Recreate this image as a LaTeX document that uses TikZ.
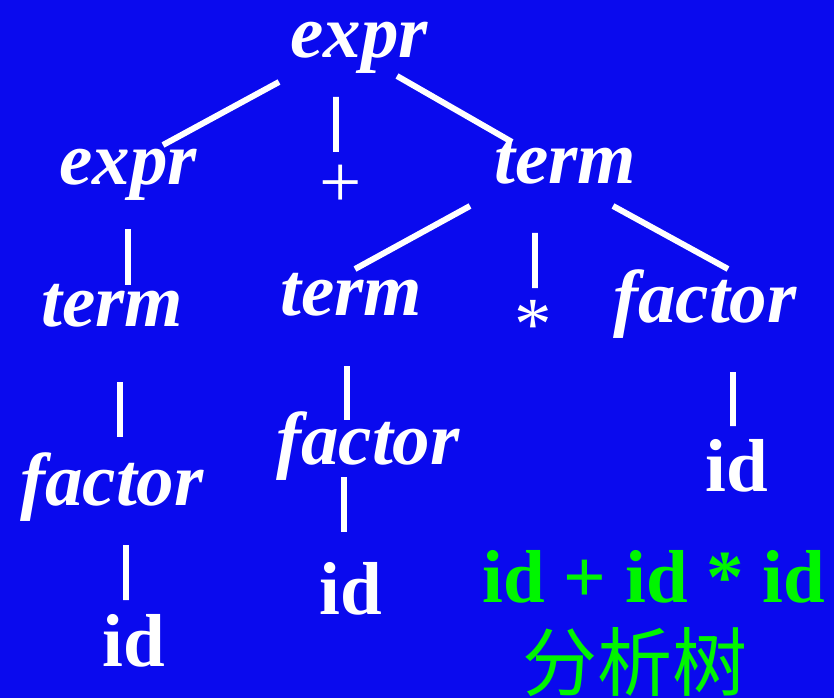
\documentclass[tikz,border=0pt]{standalone}
\usepackage{fontspec}
\setmainfont{Liberation Serif}
\newfontfamily\cjk{Noto Sans CJK SC}
\definecolor{slideblue}{RGB}{10,10,238}
\definecolor{slidegreen}{RGB}{0,245,0}

\begin{document}
\begin{tikzpicture}[very thick]
\tikzset{
  sym/.style={text=white, inner sep=0pt, anchor=base, font=\fontsize{42.7}{50}\selectfont\bfseries\itshape},
  tok/.style={sym, font=\fontsize{42.7}{50}\selectfont\bfseries},
  op/.style={sym, font=\fontsize{42.7}{50}\selectfont},
  edge/.style={white, line width=3.4pt}
}
\useasboundingbox (0,0) rectangle (16.68,13.96);
\fill[slideblue] (0,0) rectangle (16.68,13.96);

\node[sym] (top) at (7.18, 12.80) {expr};
\node[sym] (e1) at (2.56, 10.26) {expr};
\node[op] (plus) at (6.82, 9.80) {+};
\node[sym] (t0) at (11.30, 10.28) {term};
\node[sym] (t1) at (2.24, 7.44) {term};
\node[sym] (t2) at (7.02, 7.64) {term};
\node[op] (star) at (10.66, 6.98) {*};
\node[sym] (f0) at (14.10, 7.52) {factor};
\node[sym] (f1) at (2.24, 3.86) {factor};
\node[sym] (f2) at (7.36, 4.68) {factor};
\node[tok] (i0) at (14.74, 4.14) {id};
\node[tok] (i1) at (2.68, 0.64) {id};
\node[tok] (i2) at (7.02, 1.68) {id};

\node[tok, text=slidegreen] (input) at (13.08, 1.92) {id + id * id};
\node[tok, text=slidegreen, font=\fontsize{42.7}{50}\selectfont\cjk] (title) at (12.70, 0.16) {分析树};

\draw[edge] ([shift={(-1.60,-0.48)}]top.base) -- ([shift={(0.70,0.80)}]e1.base);
\draw[edge] ([shift={(-0.46,-0.78)}]top.base) -- ([shift={(-0.10,1.12)}]plus.base);
\draw[edge] ([shift={(0.76,-0.36)}]top.base) -- ([shift={(-1.06,0.84)}]t0.base);
\draw[edge] ([shift={(0,-0.88)}]e1.base) -- ([shift={(0.32,0.82)}]t1.base);
\draw[edge] ([shift={(-1.90,-0.44)}]t0.base) -- ([shift={(0.08,0.94)}]t2.base);
\draw[edge] ([shift={(-0.60,-0.98)}]t0.base) -- ([shift={(0.04,1.22)}]star.base);
\draw[edge] ([shift={(0.96,-0.44)}]t0.base) -- ([shift={(0.46,1.06)}]f0.base);
\draw[edge] ([shift={(0.16,-1.12)}]t1.base) -- ([shift={(0.16,1.36)}]f1.base);
\draw[edge] ([shift={(-0.08,-1.00)}]t2.base) -- ([shift={(-0.42,0.88)}]f2.base);
\draw[edge] ([shift={(0.28,-0.80)}]f1.base) -- ([shift={(-0.16,1.32)}]i1.base);
\draw[edge] ([shift={(-0.48,-0.26)}]f2.base) -- ([shift={(-0.14,1.64)}]i2.base);
\draw[edge] ([shift={(0.56,-1.00)}]f0.base) -- ([shift={(-0.08,1.30)}]i0.base);
\end{tikzpicture}
\end{document}
